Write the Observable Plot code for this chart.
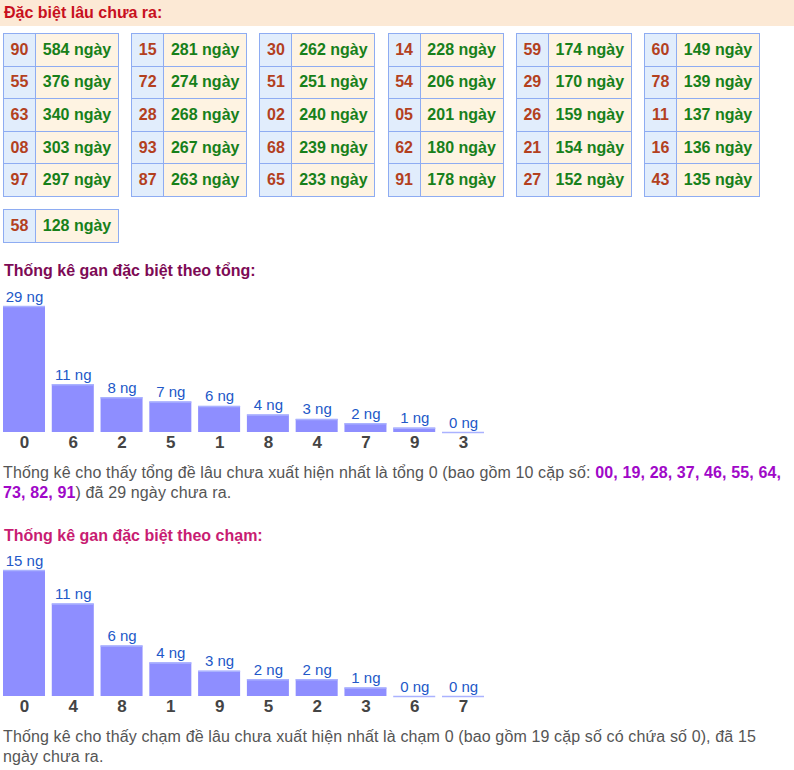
<!DOCTYPE html>
<html>
<head>
<meta charset="utf-8">
<script src="https://cdn.jsdelivr.net/npm/d3@7"></script>
<script src="https://cdn.jsdelivr.net/npm/@observablehq/plot@0.6"></script>
<style>
  html, body { margin: 0; padding: 0; background: #fff; }
  body { width: 794px; height: 770px; position: relative; overflow: hidden;
         font-family: "Liberation Sans", Arial, sans-serif; }
  .hdr { position: absolute; left: 0; top: 0; width: 794px; height: 26px; background: #fce9d5;
         color: #c8101e; font-weight: bold; font-size: 16px; line-height: 26px; padding-left: 4px; box-sizing: border-box; }
  .cell { position: absolute; box-sizing: border-box; border: 1px solid #8eacf2;
          display: flex; align-items: center; justify-content: center; font-size: 16px; font-weight: bold; }
  .num { background: #e1edfc; color: #b3401e; }
  .val { background: #fef3e2; color: #17801a; }
  .title { position: absolute; left: 4px; font-weight: bold; font-size: 16px; line-height: 20px; }
  .para { position: absolute; left: 3px; width: 789px; font-size: 16px; line-height: 20px; color: #555; letter-spacing: 0.13px; }
  .para b { color: #a008c8; }
  .chart { position: absolute; left: 0; }
</style>
</head>
<body>
<div class="hdr">Đặc biệt lâu chưa ra:</div>
<div id="table"></div>
<div class="title" style="top:261px;color:#7d0a55">Thống kê gan đặc biệt theo tổng:</div>
<div class="chart" id="c1" style="top:284px"></div>
<div class="para" id="p1" style="top:463px"></div>
<div class="title" style="top:526px;color:#c81c72">Thống kê gan đặc biệt theo chạm:</div>
<div class="chart" id="c2" style="top:548px"></div>
<div class="para" style="top:727px">Thống kê cho thấy chạm đề lâu chưa xuất hiện nhất là chạm 0 (bao gồm 19 cặp số có chứa số 0), đã 15 ngày chưa ra.</div>
<script>
// ---- Data ----
const specialNums = ["90","55","63","08","97","15","72","28","93","87","30","51","02","68","65",
                     "14","54","05","62","91","59","29","26","21","27","60","78","11","16","43","58"];
const specialDays = [584,376,340,303,297,281,274,268,267,263,262,251,240,239,233,
                     228,206,201,180,178,174,170,159,154,152,149,139,137,136,135,128];
const dayUnit = "ngày";

const tongCats = ["0","6","2","5","1","8","4","7","9","3"];
const tongVals = [29,11,8,7,6,4,3,2,1,0];
const tongPairs = ["00","19","28","37","46","55","64","73","82","91"];
const chamCats = ["0","4","8","1","9","5","2","3","6","7"];
const chamVals = [15,11,6,4,3,2,2,1,0,0];
const barUnit = "ng";

// ---- Paragraph 1 ----
document.getElementById("p1").innerHTML =
  "Thống kê cho thấy tổng đề lâu chưa xuất hiện nhất là tổng 0 (bao gồm 10 cặp số: " +
  tongPairs.map((p, i) => `<b>${p}${i < tongPairs.length - 1 ? "," : ""}</b>`).join(" ") +
  ") đã 29 ngày chưa ra.";

// ---- Table ----
const table = document.getElementById("table");
specialNums.forEach((n, i) => {
  const g = Math.floor(i / 5), r = i % 5;
  let left, top;
  if (g < 6) { left = 3 + g * 128.2; top = 33 + r * 32.6; }
  else { left = 3 + (g - 6) * 128.2; top = 209 + r * 32.6; }
  const h = 33.6;
  const a = document.createElement("div");
  a.className = "cell num";
  a.style.cssText = `left:${left}px;top:${top}px;width:33px;height:${h}px`;
  a.textContent = n;
  const b = document.createElement("div");
  b.className = "cell val";
  b.style.cssText = `left:${left + 32}px;top:${top}px;width:84px;height:${h}px`;
  b.textContent = `${specialDays[i]} ${dayUnit}`;
  table.appendChild(a); table.appendChild(b);
});

// ---- Charts ----
function chart(cats, vals) {
  const data = cats.map((c, i) => ({cat: c, v: vals[i]}));
  return Plot.plot({
    width: 794, height: 170,
    marginLeft: 3, marginRight: 310, marginTop: 22, marginBottom: 22,
    style: {fontFamily: "'Liberation Sans', Arial, sans-serif", background: "transparent", overflow: "visible"},
    x: {domain: cats, paddingInner: 0.139, paddingOuter: 0, round: false},
    y: {domain: [0, d3.max(vals)], axis: null},
    marks: [
      Plot.barY(data, {x: "cat", y: "v", fill: "#8e8eff"}),
      Plot.tickY(data, {x: "cat", y: "v", stroke: "#aab2ff", strokeWidth: 1.5}),
      Plot.text(data, {x: "cat", y: "v", text: d => `${d.v} ${barUnit}`, lineAnchor: "bottom", dy: -5,
                       fill: "#2258c8", fontSize: 15}),
      Plot.axisX({tickSize: 0, tickPadding: 3, fontSize: 17, fontWeight: "bold", fill: "#444", label: null})
    ]
  });
}
document.getElementById("c1").appendChild(chart(tongCats, tongVals));
document.getElementById("c2").appendChild(chart(chamCats, chamVals));
</script>
</body>
</html>
